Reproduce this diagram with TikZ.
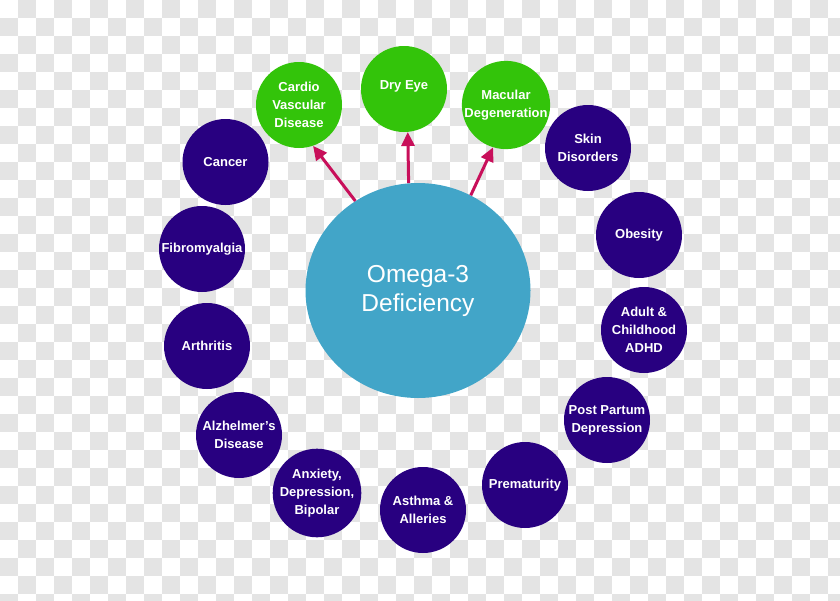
\documentclass[tikz,border=0pt]{standalone}
\usepackage{fontspec}
\setmainfont{Liberation Sans}
\usetikzlibrary{arrows.meta,shapes.geometric}
\definecolor{darkdot}{RGB}{40,0,128}
\definecolor{greendot}{RGB}{51,196,10}
\definecolor{bigblue}{RGB}{66,165,200}
\definecolor{arrowred}{RGB}{200,15,90}
\definecolor{checkgray}{RGB}{228,228,228}
\tikzset{
  dotbase/.style={circle, minimum size=86pt, inner sep=0pt, text=white, align=center,
    font=\bfseries\fontsize{13}{18}\selectfont},
  darkbox/.style={dotbase, fill=darkdot},
  greenbox/.style={dotbase, fill=greendot},
  bigbox/.style={ellipse, fill=bigblue, minimum width=225pt, minimum height=215pt, inner sep=0pt,
    text=white, align=center, font=\fontsize{24.5}{29}\selectfont},
  link/.style={draw=arrowred, line width=3pt, -{Triangle[width=13pt,length=14pt]}}
}
\begin{document}
\begin{tikzpicture}[x=1pt,y=-1pt]
\fill[white] (0,0) rectangle (840,600);
\useasboundingbox (0,0) rectangle (840,600);
\foreach \j in {0,...,33} {
  \foreach \i in {0,...,46} {
    \pgfmathtruncatemacro{\cpar}{mod(\i+\j,2)}
    \ifnum\cpar=1
      \fill[fill=checkgray] (18*\i,18*\j) rectangle (18*\i+18,18*\j+18);
    \fi
  }
}

\node[bigbox] (big) at (418,290.5) {Omega-3\\Deficiency};

\node[greenbox] (cardio) at (299,105) {Cardio\\Vascular\\Disease};
\node[greenbox] (dry) at (404,89) {\raisebox{0pt}[0pt][0pt]{Dry Eye}};
\node[greenbox] (macular) at (506,105) {Macular\\Degeneration};

\node[darkbox] (cancer) at (225.5,162) {Cancer};
\node[darkbox] (fibro) at (202,249) {Fibromyalgia};
\node[darkbox] (arthritis) at (207,346) {Arthritis};
\node[darkbox] (alz) at (239,435) {Alzhelmer’s\\Disease};
\node[darkbox] (anxiety) at (317,493) {Anxiety,\\Depression,\\Bipolar};
\node[darkbox] (asthma) at (423,510) {Asthma \&\\Alleries};
\node[darkbox] (prem) at (525,485) {Prematurity};
\node[darkbox] (post) at (607,420) {Post Partum\\Depression};
\node[darkbox] (adhd) at (644,330) {Adult \&\\Childhood\\ADHD};
\node[darkbox] (obesity) at (639,235) {Obesity};
\node[darkbox] (skin) at (588,148) {Skin\\Disorders};

\draw[link] (big.125) -- (cardio.-71);
\draw[link] (big.95) -- (dry.-85);
\draw[link] (big.61) -- (macular.-107);
\end{tikzpicture}
\end{document}
